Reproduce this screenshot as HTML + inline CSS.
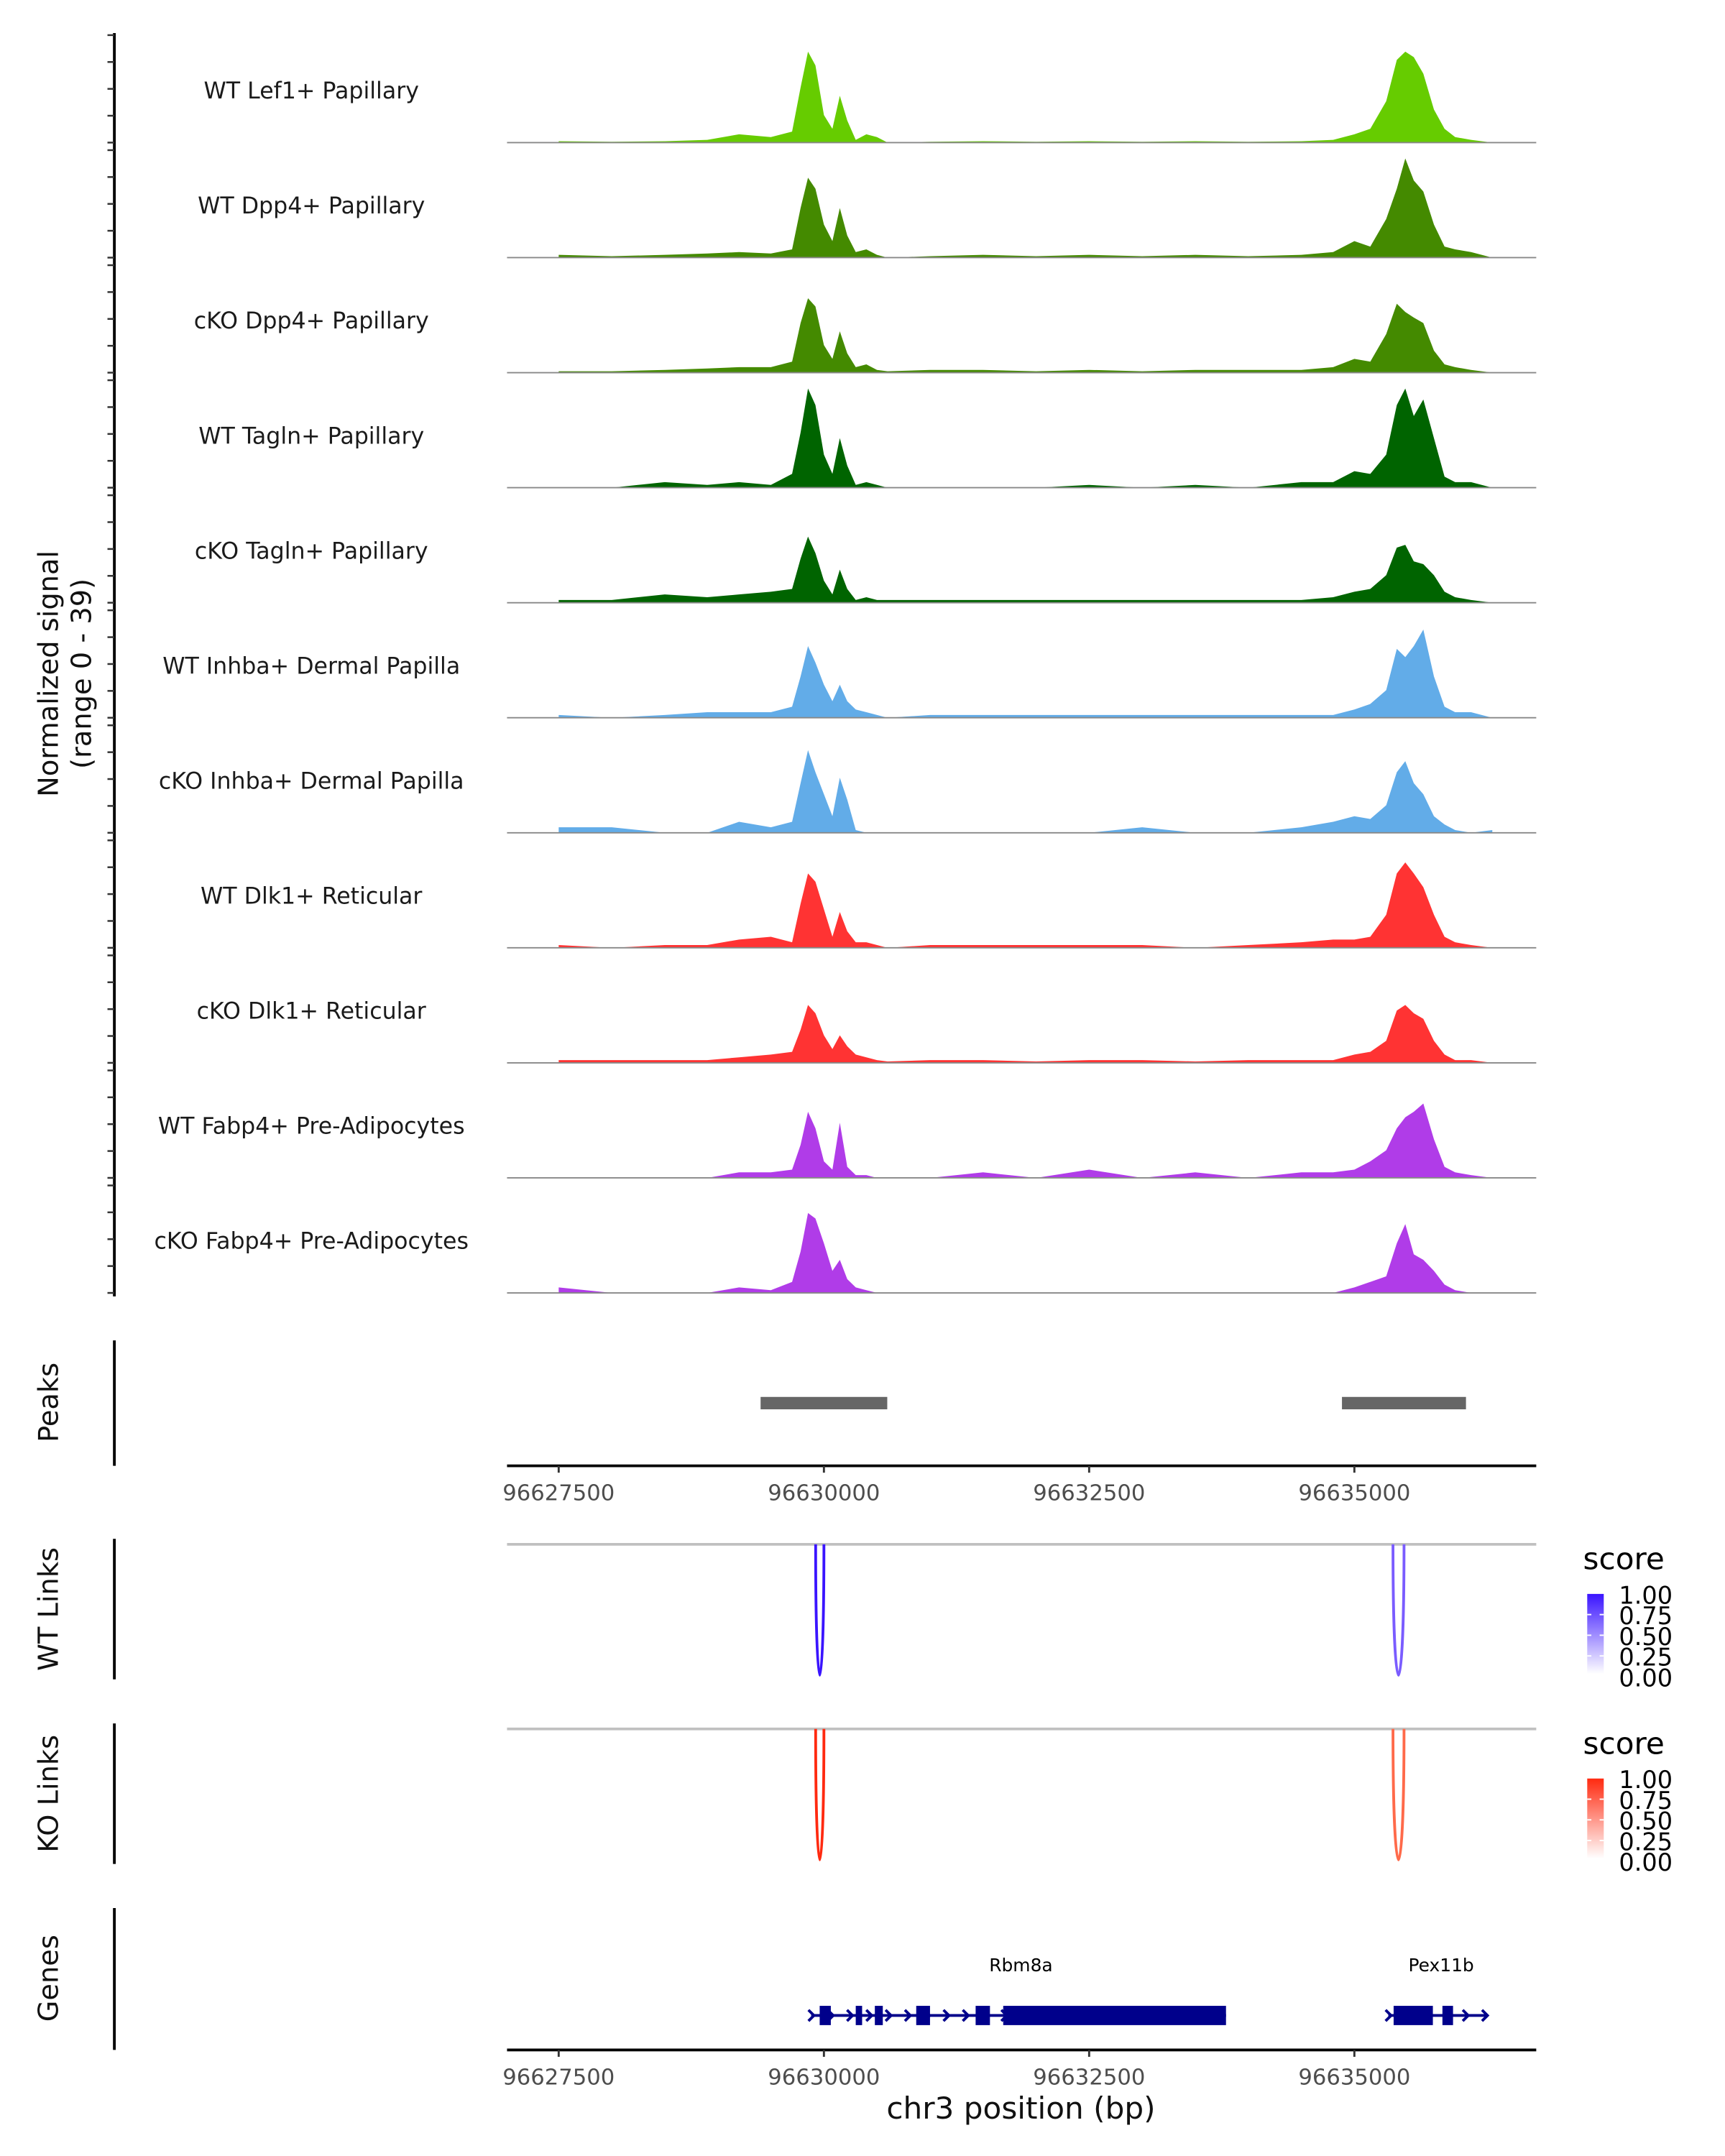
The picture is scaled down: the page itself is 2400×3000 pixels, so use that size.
<!DOCTYPE html>
<html><head><meta charset="utf-8"><style>
html,body{margin:0;padding:0;background:#fff;}
svg{display:block;}
text{font-family:"DejaVu Sans","Liberation Sans",sans-serif;}
</style></head><body>
<svg id="chart" xmlns="http://www.w3.org/2000/svg" width="2400" height="3000" viewBox="0 0 1252 1565">
<rect width="1252" height="1565" fill="#fff"/>
<g id="g-tracks"></g>
<g id="g-yaxis"></g>
<text transform="translate(42,489) rotate(-90)" text-anchor="middle" font-size="20" fill="#111">Normalized signal</text>
<text transform="translate(66,489) rotate(-90)" text-anchor="middle" font-size="20" fill="#111">(range 0 - 39)</text>
<g id="g-peaks"></g>
<g id="g-links"></g>
<g id="g-genes"></g>
</svg>
<script>
const positions=[96627500,96628000,96628500,96628900,96629200,96629500,96629700,96629780,96629850,96629920,96630000,96630080,96630150,96630220,96630300,96630400,96630500,96630600,96631000,96631500,96632000,96632500,96633000,96633500,96634000,96634500,96634800,96635000,96635150,96635300,96635400,96635480,96635560,96635650,96635750,96635850,96635950,96636100,96636300];
const trackNames=["WT Lef1+ Papillary","WT Dpp4+ Papillary","cKO Dpp4+ Papillary","WT Tagln+ Papillary","cKO Tagln+ Papillary","WT Inhba+ Dermal Papilla","cKO Inhba+ Dermal Papilla","WT Dlk1+ Reticular","cKO Dlk1+ Reticular","WT Fabp4+ Pre-Adipocytes","cKO Fabp4+ Pre-Adipocytes"];
const trackColors=["#66cc00","#448a00","#448a00","#006400","#006400","#62ace8","#62ace8","#ff3333","#ff3333","#b03ce8","#b03ce8"];
const sigLef1WT=[0.5,0.3,0.5,1,3,2,4,20,33,28,10,5,17,8,1,3,2,0,0.3,0.5,0.3,0.5,0.3,0.5,0.3,0.5,1,3,5,15,30,33,31,25,12,5,2,1,0];
const sigDpp4WT=[1,0.5,1,1.5,2,1.5,3,18,29,25,12,6,18,8,2,3,1,0,0.5,1,0.5,1,0.5,1,0.5,1,2,6,4,14,25,36,28,24,12,4,3,2,0];
const sigDpp4KO=[0.5,0.5,1,1.5,2,2,4,18,27,24,10,5,15,7,2,3,1,0.5,1,1,0.5,1,0.5,1,1,1,2,5,4,14,25,22,20,18,8,3,2,1,0];
const sigTaglnWT=[0,0,2,1,2,1,5,20,36,30,12,5,18,8,1,2,1,0,0,0,0,1,0,1,0,2,2,6,5,12,30,36,26,32,18,4,2,2,0];
const sigTaglnKO=[1,1,3,2,3,4,5,16,24,18,8,3,12,5,1,2,1,1,1,1,1,1,1,1,1,1,2,4,5,10,20,21,15,14,10,4,2,1,0];
const sigInhbaWT=[1,0,1,2,2,2,4,15,26,20,12,6,12,6,3,2,1,0,1,1,1,1,1,1,1,1,1,3,5,10,25,22,26,32,15,4,2,2,0];
const sigInhbaKO=[2,2,0,0,4,2,4,18,30,22,14,6,20,12,1,0,0,0,0,0,0,0,2,0,0,2,4,6,5,10,22,26,18,14,6,3,1,0,1];
const sigDlk1WT=[1,0,1,1,3,4,2,16,27,24,14,4,13,6,2,2,1,0,1,1,1,1,1,0,1,2,3,3,4,12,27,31,27,22,12,4,2,1,0];
const sigDlk1KO=[1,1,1,1,2,3,4,12,21,18,10,5,10,6,3,2,1,0.5,1,1,0.5,1,1,0.5,1,1,1,3,4,8,19,21,18,16,8,3,1,1,0];
const sigFabp4WT=[0,0,0,0,2,2,3,12,24,18,6,3,20,4,1,1,0,0,0,2,0,3,0,2,0,2,2,3,6,10,18,22,24,27,14,4,2,1,0];
const sigFabp4KO=[2,0,0,0,2,1,4,15,29,27,18,8,12,5,2,1,0,0,0,0,0,0,0,0,0,0,0,2,4,6,18,25,14,12,8,3,1,0,0];
const signals=[sigLef1WT,sigDpp4WT,sigDpp4KO,sigTaglnWT,sigTaglnKO,sigInhbaWT,sigInhbaKO,sigDlk1WT,sigDlk1KO,sigFabp4WT,sigFabp4KO];
const xTicks=[96627500,96630000,96632500,96635000];
const peakStarts=[96629403,96634883];
const peakEnds=[96630597,96636052];
const wtLinkStart=[96629922,96635364];
const wtLinkEnd=[96630000,96635468];
const wtLinkScore=[0.95,0.75];
const koLinkStart=[96629922,96635364];
const koLinkEnd=[96630000,96635468];
const koLinkScore=[0.85,0.7];
const legendTicks=["1.00","0.75","0.50","0.25","0.00"];
const exonStarts=[96629960,96630300,96630480,96630870,96631430,96631690,96635370,96635830];
const exonEnds=[96630065,96630360,96630555,96631000,96631565,96633790,96635740,96635930];
const geneNames=["Rbm8a","Pex11b"];
const geneStarts=[96629880,96635320];
const geneEnds=[96633790,96636250];

const NS="http://www.w3.org/2000/svg";
function mk(tag,attrs,parent){const e=document.createElementNS(NS,tag);for(const k in attrs)e.setAttribute(k,attrs[k]);parent.appendChild(e);return e;}
function xs(bp){return 598+(bp-96630000)/2500*192.5;}
const X0=368,X1=1115,YMAX=39,TH=78;
function ys(v,base){return base-v/YMAX*TH;}

const gT=document.getElementById('g-tracks');
const gY=document.getElementById('g-yaxis');
mk('line',{x1:83,y1:24,x2:83,y2:941,stroke:'#000','stroke-width':2},gY);
trackNames.forEach((nm,i)=>{
  const base=103.5+i*83.5;
  const g=mk('g',{},gT);
  
  
  const vals=signals[i];
  let d='M'+xs(positions[0])+','+base;
  positions.forEach((p,j)=>{d+=' L'+xs(p).toFixed(2)+','+ys(vals[j],base).toFixed(2);});
  d+=' L'+xs(positions[positions.length-1])+','+base+' Z';
  const a=mk('path',{d:d,fill:trackColors[i],stroke:'none'},g);
  
  
  const bl=mk('line',{x1:X0,y1:base,x2:X1,y2:base,stroke:'#888','stroke-width':1},g);
  
  
  const t=mk('text',{x:226,y:base-32,'text-anchor':'middle','font-size':16.5,fill:'#1a1a1a'},g);
  t.textContent=nm;
  
  
  for(let k=0;k<5;k++){
    const ty=base-TH+k*TH/4;
    mk('line',{x1:78,y1:ty,x2:83,y2:ty,stroke:'#333','stroke-width':1.3},gY);
  }
});

function xAxis(parent,y,name){
  const g=mk('g',{},parent);
  
  
  mk('line',{x1:X0,y1:y,x2:X1,y2:y,stroke:'#000','stroke-width':2},g);
  xTicks.forEach(t=>{
    mk('line',{x1:xs(t),y1:y,x2:xs(t),y2:y+5,stroke:'#333','stroke-width':1.5},g);
    const tx=mk('text',{x:xs(t),y:y+25,'text-anchor':'middle','font-size':16,fill:'#4d4d4d'},g);
    tx.textContent=t;
    
    
  });
}

const gP=document.getElementById('g-peaks');
mk('line',{x1:83,y1:973,x2:83,y2:1064,stroke:'#000','stroke-width':2},gP);
const pl=mk('text',{transform:'translate(42,1018) rotate(-90)','text-anchor':'middle','font-size':20,fill:'#111'},gP);
pl.textContent='Peaks';


peakStarts.forEach((s,i)=>{
  const r=mk('rect',{x:xs(s),y:1014,width:xs(peakEnds[i])-xs(s),height:9,fill:'#666'},gP);
  
  
});
xAxis(gP,1064,'peaks-x-axis');

const gL=document.getElementById('g-links');
function linkPanel(label,y0,starts,ends,scores,c0,c1,legY,gradId){
  const g=mk('g',{},gL);
  
  
  mk('line',{x1:83,y1:y0-4,x2:83,y2:y0+98,stroke:'#000','stroke-width':2},g);
  const lt=mk('text',{transform:'translate(42,'+(y0+47)+') rotate(-90)','text-anchor':'middle','font-size':20,fill:'#111'},g);
  lt.textContent=label;
  
  
  mk('line',{x1:X0,y1:y0,x2:X1,y2:y0,stroke:'#c0c0c0','stroke-width':2},g);
  starts.forEach((s,i)=>{
    const xa=xs(s),xb=xs(ends[i]),h=95/0.75;
    const col=scores[i]>0.8?c0:c1;
    const p=mk('path',{d:`M${xa},${y0} C${xa},${y0+h} ${xb},${y0+h} ${xb},${y0}`,fill:'none',stroke:col,'stroke-width':2},g);
    
    
  });
  const defs=mk('defs',{},g);
  const lg=mk('linearGradient',{id:gradId,x1:0,y1:1,x2:0,y2:0},defs);
  mk('stop',{offset:0,'stop-color':'#ffffff'},lg);
  mk('stop',{offset:1,'stop-color':c0},lg);
  const lgG=mk('g',{},g);
  
  
  const st=mk('text',{x:1149,y:legY,'font-size':22,fill:'#000'},lgG);
  st.textContent='score';
  mk('rect',{x:1152,y:legY+18,width:12,height:58,fill:'url(#'+gradId+')'},lgG);
  legendTicks.forEach((t,k)=>{
    const yy=legY+18+k*15;
    if(k>0&&k<4){mk('line',{x1:1152,y1:yy,x2:1155,y2:yy,stroke:'#fff'},lgG);mk('line',{x1:1161,y1:yy,x2:1164,y2:yy,stroke:'#fff'},lgG);}
    const tt=mk('text',{x:1175,y:yy+7,'font-size':17.5,fill:'#000'},lgG);
    tt.textContent=t;
  });
}
linkPanel('WT Links',1121,wtLinkStart,wtLinkEnd,wtLinkScore,'#3a14ff','#7a5cff',1139,'gradWT');
linkPanel('KO Links',1255,koLinkStart,koLinkEnd,koLinkScore,'#ff2a10','#ff6a4a',1273,'gradKO');

const gG=document.getElementById('g-genes');
mk('line',{x1:83,y1:1385,x2:83,y2:1488,stroke:'#000','stroke-width':2},gG);
const gl=mk('text',{transform:'translate(42,1436) rotate(-90)','text-anchor':'middle','font-size':20,fill:'#111'},gG);
gl.textContent='Genes';


const GY=1463;
geneNames.forEach((n,i)=>{
  const g=mk('g',{},gG);
  
  
  const xa=xs(geneStarts[i]),xb=xs(geneEnds[i]);
  mk('line',{x1:xa,y1:GY,x2:xb,y2:GY,stroke:'#00008b','stroke-width':2},g);
  for(let x=xa;x<=xb;x+=14){
    mk('path',{d:`M${x-2},${GY-4} L${x+2},${GY} L${x-2},${GY+4}`,fill:'none',stroke:'#00008b','stroke-width':2},g);
  }
  const t=mk('text',{x:(i==0?741:1046),y:1431,'text-anchor':'middle','font-size':13,fill:'#000'},g);
  t.textContent=n;
});
exonStarts.forEach((s,i)=>{
  const r=mk('rect',{x:xs(s),y:GY-7,width:xs(exonEnds[i])-xs(s),height:14,fill:'#00008b'},gG);
  
  
});
xAxis(gG,1488,'genes-x-axis');
const xt=mk('text',{x:741,y:1538,'text-anchor':'middle','font-size':22,fill:'#111'},gG);
xt.textContent='chr3 position (bp)';


</script>
</body></html>
